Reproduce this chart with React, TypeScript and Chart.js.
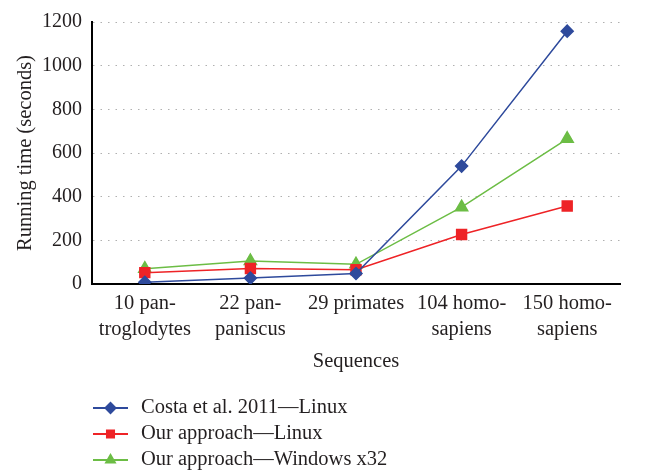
import React, { useEffect, useRef } from "react";
import { Chart, registerables } from "chart.js";
import { drawPoint } from "chart.js/helpers";

Chart.register(...registerables);

const categories: (string | string[])[] = [
  ["10 pan-", "troglodytes"],
  ["22 pan-", "paniscus"],
  "29 primates",
  ["104 homo-", "sapiens"],
  ["150 homo-", "sapiens"],
];
const costaLinux = [8, 27, 48, 540, 1158];
const oursLinux = [52, 71, 65, 227, 357];
const oursWindows = [70, 105, 90, 352, 665];
const seriesNames = ["Costa et al. 2011\u2014Linux", "Our approach\u2014Linux", "Our approach\u2014Windows x32"];

const FONT = "'Liberation Serif', 'Times New Roman', serif";
const TEXT = "#231f20";

const legendPlugin = {
  id: "lineLegend",
  afterDraw(chart: any) {
    const ctx = chart.ctx;
    const rows = [408, 434, 460];
    ctx.save();
    chart.data.datasets.forEach((ds: any, i: number) => {
      const y = rows[i];
      ctx.strokeStyle = ds.borderColor;
      ctx.lineWidth = 2;
      ctx.beginPath();
      ctx.moveTo(93, y);
      ctx.lineTo(128, y);
      ctx.stroke();
      ctx.fillStyle = ds.pointBackgroundColor;
      ctx.strokeStyle = ds.pointBorderColor;
      drawPoint(ctx, { pointStyle: ds.pointStyle, radius: ds.legendRadius, borderWidth: 1, rotation: 0 } as any, 110.5, y);
      ctx.fillStyle = TEXT;
      ctx.font = `20.5px ${FONT}`;
      ctx.textBaseline = "middle";
      ctx.textAlign = "left";
      ctx.fillText(ds.label, 141, y);
    });
    ctx.restore();
  },
};

export default function App() {
  const ref = useRef<HTMLCanvasElement>(null);
  useEffect(() => {
    document.body.style.margin = "0";
    const chart = new Chart(ref.current!, {
      type: "line",
      data: {
        labels: categories,
        datasets: [
          {
            label: seriesNames[0],
            data: costaLinux,
            borderColor: "#2e4a9c",
            backgroundColor: "#2e4a9c",
            pointBackgroundColor: "#2e4a9c",
            pointBorderColor: "#2e4a9c",
            pointStyle: "rectRot",
            pointRadius: 6,
            borderWidth: 1.5,
            legendRadius: 5,
          } as any,
          {
            label: seriesNames[1],
            data: oursLinux,
            borderColor: "#ee2326",
            backgroundColor: "#ee2326",
            pointBackgroundColor: "#ee2326",
            pointBorderColor: "#ee2326",
            pointStyle: "rect",
            pointRadius: 7,
            borderWidth: 1.5,
            legendRadius: 5,
          } as any,
          {
            label: seriesNames[2],
            data: oursWindows,
            borderColor: "#6cbd45",
            backgroundColor: "#6cbd45",
            pointBackgroundColor: "#6cbd45",
            pointBorderColor: "#6cbd45",
            pointStyle: "triangle",
            pointRadius: 7,
            borderWidth: 1.5,
            legendRadius: 5,
          } as any,
        ],
      },
      options: {
        animation: false,
        responsive: false,
        layout: { padding: { top: 15, right: 26, bottom: 89, left: 0 } },
        plugins: {
          legend: { display: false },
          tooltip: { enabled: false },
        },
        scales: {
          x: {
            offset: true,
            grid: { display: true, drawOnChartArea: false, drawTicks: false },
            border: { display: true, color: "#000", width: 2 },
            ticks: { color: TEXT, font: { family: FONT, size: 20.5, lineHeight: 1.3 }, padding: 6, maxRotation: 0, autoSkip: false },
            title: { display: true, text: "Sequences", color: TEXT, font: { family: FONT, size: 20.5 }, padding: { top: 0, bottom: 10 } },
            afterFit: (s: any) => { s.height = 100; },
          },
          y: {
            min: 0,
            max: 1200,
            ticks: { stepSize: 200, color: TEXT, font: { family: FONT, size: 20 }, padding: 10, callback: (v: any) => String(v) },
            grid: { color: "#b0b0b0", lineWidth: 1, drawTicks: false },
            border: { display: true, color: "#000", width: 2, dash: [1.5, 6] },
            title: { display: true, text: "Running time (seconds)", color: TEXT, font: { family: FONT, size: 20.5 }, padding: { top: 13, bottom: 0 } },
            afterFit: (s: any) => { s.width = 92; },
          } as any,
        },
      },
      plugins: [legendPlugin],
    });
    return () => chart.destroy();
  }, []);
  return <canvas ref={ref} width={646} height={473} style={{ display: "block" }} />;
}
